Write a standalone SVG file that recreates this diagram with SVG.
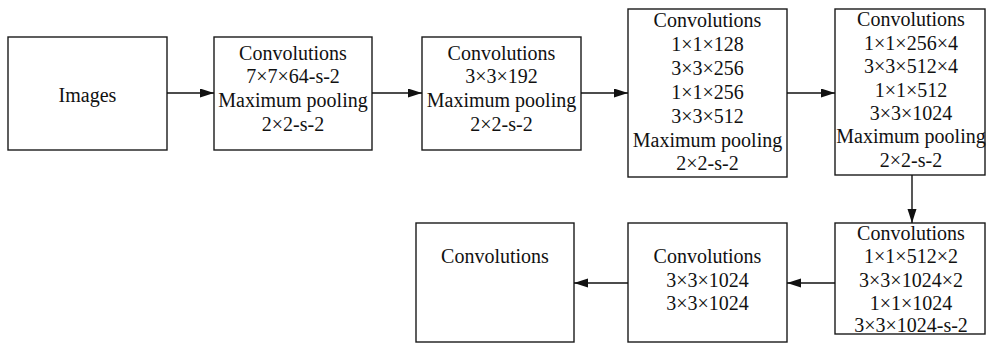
<svg xmlns="http://www.w3.org/2000/svg" width="987" height="343" viewBox="0 0 987 343">
<style>
rect{fill:#fff;stroke:#1a1a1a;stroke-width:1.4}
text{font-family:"Liberation Serif","Times New Roman",serif;font-size:20px;fill:#111;text-anchor:middle}
.c line{stroke:#111;stroke-width:1.4;marker-end:url(#a)}
</style>
<defs>
<marker id="a" markerUnits="userSpaceOnUse" markerWidth="15" markerHeight="10" refX="14" refY="4.5" orient="auto">
<path d="M0,0 L14,4.5 L0,9 z" fill="#111"/>
</marker>
</defs>
<g id="n1"><rect x="8" y="37" width="159" height="113"/><text x="87.5" y="102">Images</text></g>
<g id="n2"><rect x="214" y="37" width="158" height="113"/>
<text x="293" y="60">Convolutions</text><text x="293" y="83">7×7×64-s-2</text><text x="293" y="107">Maximum pooling</text><text x="293" y="131">2×2-s-2</text></g>
<g id="n3"><rect x="422" y="37" width="159" height="113"/>
<text x="501.5" y="60">Convolutions</text><text x="501.5" y="83">3×3×192</text><text x="501.5" y="107">Maximum pooling</text><text x="501.5" y="131">2×2-s-2</text></g>
<g id="n4"><rect x="628" y="9" width="159" height="168"/>
<text x="707.5" y="27">Convolutions</text><text x="707.5" y="51">1×1×128</text><text x="707.5" y="75">3×3×256</text><text x="707.5" y="99">1×1×256</text><text x="707.5" y="123">3×3×512</text><text x="707.5" y="147">Maximum pooling</text><text x="707.5" y="170">2×2-s-2</text></g>
<g id="n5"><rect x="835" y="9" width="150" height="166"/>
<text x="911" y="26">Convolutions</text><text x="911" y="50">1×1×256×4</text><text x="911" y="73">3×3×512×4</text><text x="911" y="97">1×1×512</text><text x="911" y="120">3×3×1024</text><text x="911" y="143">Maximum pooling</text><text x="911" y="167">2×2-s-2</text></g>
<g id="n6"><rect x="835" y="223" width="150" height="111"/>
<text x="911" y="240">Convolutions</text><text x="911" y="263">1×1×512×2</text><text x="911" y="287">3×3×1024×2</text><text x="911" y="310">1×1×1024</text><text x="911" y="332">3×3×1024-s-2</text></g>
<g id="n7"><rect x="628" y="223" width="159" height="119"/>
<text x="707.5" y="263">Convolutions</text><text x="707.5" y="287">3×3×1024</text><text x="707.5" y="310">3×3×1024</text></g>
<g id="n8"><rect x="416" y="223" width="158" height="119"/>
<text x="495" y="263">Convolutions</text></g>
<g class="c" id="connectors">
<line x1="167" y1="93" x2="214" y2="93"/>
<line x1="372" y1="93" x2="422" y2="93"/>
<line x1="581" y1="93" x2="628" y2="93"/>
<line x1="787" y1="93" x2="835" y2="93"/>
<line x1="912" y1="175" x2="912" y2="223"/>
<line x1="835" y1="283" x2="787" y2="283"/>
<line x1="628" y1="283" x2="574" y2="283"/>
</g>
</svg>
